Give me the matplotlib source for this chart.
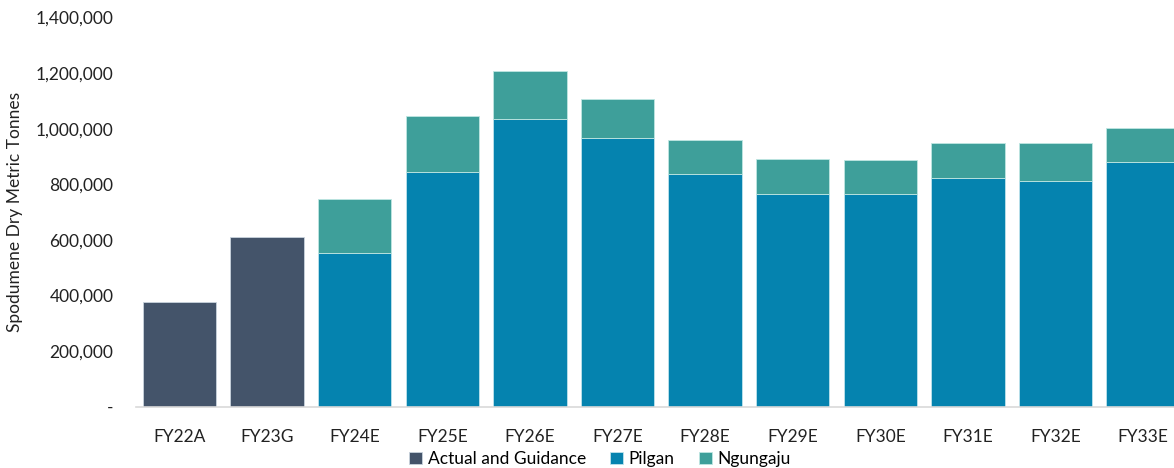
import matplotlib.pyplot as plt
from matplotlib.ticker import FuncFormatter
import numpy as np

years = ['FY22A', 'FY23G', 'FY24E', 'FY25E', 'FY26E', 'FY27E',
         'FY28E', 'FY29E', 'FY30E', 'FY31E', 'FY32E', 'FY33E']
actual = [377000, 609000, 0, 0, 0, 0, 0, 0, 0, 0, 0, 0]
pilgan = [0, 0, 553000, 845000, 1034000, 966000, 835000, 766000, 766000, 823000, 812000, 881000]
ngungaju = [0, 0, 193000, 202000, 173000, 141000, 123000, 124000, 121000, 127000, 138000, 122000]

c_actual = '#44546A'
c_pilgan = '#0583AF'
c_ngung = '#3E9F9A'

plt.rcParams['font.family'] = ['Lato', 'DejaVu Sans']

fig = plt.figure(figsize=(11.74, 4.68), dpi=100)
# right edge runs past the figure, the reference is cropped there
ax = fig.add_axes([135.7 / 1174, 61.5 / 468, 1051.2 / 1174, 389.0 / 468])

x = np.arange(len(years))
w = 0.84
ax.bar(x, actual, w, color=c_actual, edgecolor='#C9D3DD', linewidth=0.6, label='Actual and Guidance')
ax.bar(x, pilgan, w, color=c_pilgan, edgecolor='#BFE3EC', linewidth=0.6, label='Pilgan')
ax.bar(x, ngungaju, w, bottom=pilgan, color=c_ngung, edgecolor='#BFE6E2', linewidth=0.6, label='Ngungaju')

ax.set_xlim(-0.5, len(years) - 0.5)
ax.set_ylim(0, 1400000)
ax.set_yticks(np.arange(0, 1400001, 200000))
ax.yaxis.set_major_formatter(FuncFormatter(lambda v, p: '-' if v == 0 else f'{int(v):,}'))
ax.set_xticks(x)
ax.set_xticklabels(years)
ax.tick_params(axis='both', length=0, labelsize=12.5, colors='#222222')
ax.tick_params(axis='x', pad=16)
ax.tick_params(axis='y', pad=16)

for s in ['top', 'right', 'left']:
    ax.spines[s].set_visible(False)
ax.spines['bottom'].set_color('#D9D9D9')
ax.spines['bottom'].set_linewidth(1.2)

ax.set_ylabel('Spodumene Dry Metric Tonnes', fontsize=12.5, color='#222222', labelpad=9)

fig.legend(loc='center', bbox_to_anchor=(0.511, 1 - 459 / 468), ncol=3, frameon=False,
           fontsize=12.5, handlelength=0.75, handleheight=0.75, handletextpad=0.3,
           columnspacing=1.4)

fig.savefig('out.png', dpi=100)
